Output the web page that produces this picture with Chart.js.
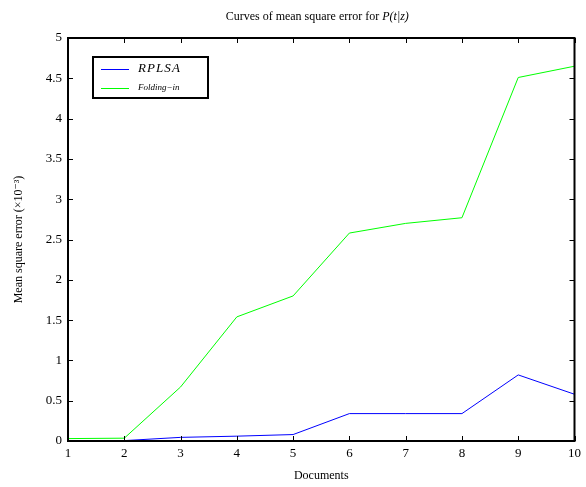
<!DOCTYPE html>
<html>
<head>
<meta charset="utf-8">
<script src="https://cdn.jsdelivr.net/npm/chart.js@4"></script>
<style>
  html, body { margin: 0; padding: 0; background: #fff; }
  #box { width: 586px; height: 487px; }
</style>
</head>
<body>
<div id="box"><canvas id="grafica"></canvas></div>
<script>
// data
const documentos = [1, 2, 3, 4, 5, 6, 7, 8, 9, 10];
const rplsa = [0.005, 0.005, 0.045, 0.06, 0.08, 0.34, 0.34, 0.34, 0.82, 0.58];
const foldingIn = [0.03, 0.035, 0.67, 1.54, 1.80, 2.58, 2.70, 2.77, 4.51, 4.65];
const yTicks = [0, 0.5, 1, 1.5, 2, 2.5, 3, 3.5, 4, 4.5, 5];

const SERIF = '"Liberation Serif", "DejaVu Serif", serif';

// title, frame, inner ticks and legend box drawn by hand
const dibujoExtra = {
    id: 'dibujoExtra',
    afterDatasetsDraw(chart) {
        const c = chart.ctx;
        const a = chart.chartArea;
        const xs = chart.scales.x, ys = chart.scales.y;
        c.save();

        // ticks pointing inward on all four sides
        c.strokeStyle = '#000';
        c.lineWidth = 1;
        c.beginPath();
        documentos.forEach((d, i) => {
            const px = Math.round(xs.getPixelForValue(i)) + 0.5;
            c.moveTo(px, a.bottom); c.lineTo(px, a.bottom - 5);
            c.moveTo(px, a.top); c.lineTo(px, a.top + 5);
        });
        yTicks.forEach(v => {
            const py = Math.round(ys.getPixelForValue(v)) + 0.5;
            c.moveTo(a.left, py); c.lineTo(a.left + 5, py);
            c.moveTo(a.right, py); c.lineTo(a.right - 5, py);
        });
        c.stroke();

        // frame
        c.lineWidth = 2;
        c.strokeRect(a.left, a.top, a.right - a.left, a.bottom - a.top);

        // title with italic P(t|z)
        const t1 = 'Curves of mean square error for ';
        const t2 = 'P(t|z)';
        c.font = '12px ' + SERIF;
        const w1 = c.measureText(t1).width;
        c.font = 'italic 12px ' + SERIF;
        const w2 = c.measureText(t2).width;
        let x0 = (a.left + a.right) / 2 - (w1 + w2) / 2 - 4;
        c.fillStyle = '#000';
        c.textBaseline = 'middle';
        c.textAlign = 'left';
        c.font = '12px ' + SERIF;
        c.fillText(t1, x0, 17);
        c.font = 'italic 12px ' + SERIF;
        c.fillText(t2, x0 + w1, 17);

        // legend box
        c.fillStyle = '#fff';
        c.fillRect(93, 57, 115, 41);
        c.lineWidth = 2;
        c.strokeStyle = '#000';
        c.strokeRect(93, 57, 115, 41);
        const ds = chart.data.datasets;
        c.lineWidth = 1;
        c.strokeStyle = ds[0].borderColor;
        c.beginPath(); c.moveTo(101, 69.5); c.lineTo(129, 69.5); c.stroke();
        c.strokeStyle = ds[1].borderColor;
        c.beginPath(); c.moveTo(101, 88.5); c.lineTo(129, 88.5); c.stroke();
        c.fillStyle = '#000';
        c.font = 'italic 13px ' + SERIF;
        c.fillText(ds[0].label.split('').join('\u200a'), 138, 69);
        c.font = 'italic 9px ' + SERIF;
        c.fillText(ds[1].label, 138, 88);
        c.restore();
    }
};

const ctx = document.getElementById('grafica').getContext('2d');
const chart = new Chart(ctx, {
    type: 'line',
    data: {
        labels: documentos,
        datasets: [{
            label: 'RPLSA',
            data: rplsa,
            borderColor: '#0000ff',
            borderWidth: 1,
            pointRadius: 0,
            tension: 0,
            fill: false
        }, {
            label: 'Folding\u2212in',
            data: foldingIn,
            borderColor: '#00ff00',
            borderWidth: 1,
            pointRadius: 0,
            tension: 0,
            fill: false
        }]
    },
    options: {
        responsive: true,
        maintainAspectRatio: false,
        animation: false,
        layout: { padding: { top: 38, right: 8, left: 0, bottom: 0 } },
        plugins: {
            legend: { display: false },
            title: { display: false },
            tooltip: { enabled: false }
        },
        scales: {
            x: {
                type: 'category',
                offset: false,
                grid: { display: false, drawTicks: false, tickLength: 0 },
                border: { display: false },
                ticks: {
                    color: '#000',
                    font: { family: SERIF, size: 13 },
                    padding: 5,
                    maxRotation: 0
                },
                title: {
                    display: true,
                    text: 'Documents',
                    color: '#000',
                    font: { family: SERIF, size: 12 },
                    padding: { top: 2, bottom: 4 }
                },
                afterFit(scale) { scale.height = 46; }
            },
            y: {
                min: 0,
                max: 5,
                grid: { display: false, drawTicks: false, tickLength: 0 },
                border: { display: false },
                afterBuildTicks(scale) {
                    scale.ticks = yTicks.map(v => ({ value: v }));
                },
                ticks: {
                    color: '#000',
                    font: { family: SERIF, size: 13 },
                    padding: 6,
                    callback: v => String(v)
                },
                title: {
                    display: true,
                    text: 'Mean square error (\u00d710\u207b\u00b3)',
                    color: '#000',
                    font: { family: SERIF, size: 12 },
                    padding: { top: 12, bottom: 0 }
                },
                afterFit(scale) { scale.width = 68; }
            }
        }
    },
    plugins: [dibujoExtra]
});
</script>
</body>
</html>
